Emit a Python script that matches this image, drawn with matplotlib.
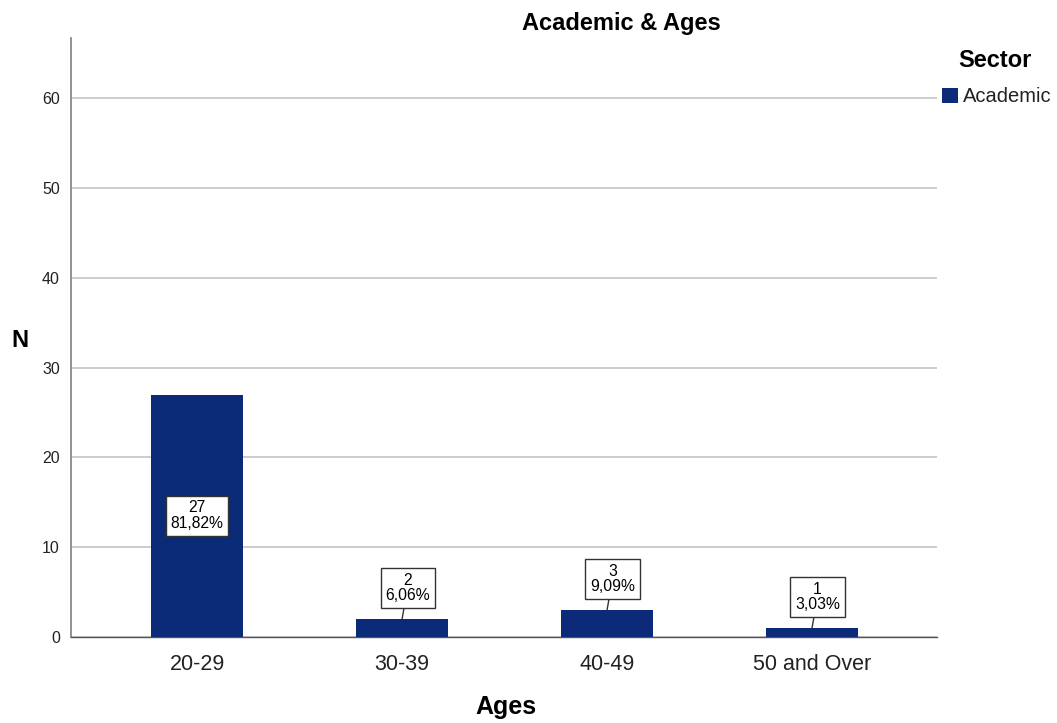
import matplotlib
matplotlib.use("Agg")
import matplotlib.pyplot as plt

plt.rcParams['font.family'] = ['Liberation Sans', 'DejaVu Sans']

# Data
age_groups = ["20-29", "30-39", "40-49", "50 and Over"]
counts = [27, 2, 3, 1]
percent_labels = ["81,82%", "6,06%", "9,09%", "3,03%"]
sector_name = "Academic"

bar_color = "#0b2a78"

fig = plt.figure(figsize=(10.57, 7.23), dpi=100)
ax = fig.add_axes([0.0672, 0.1189, 0.8193, 0.8285])

x = list(range(len(age_groups)))
bars = ax.bar(x, counts, width=0.445, color=bar_color, zorder=3, label=sector_name)

ax.set_xlim(-0.615, 3.61)
ax.set_ylim(0, 66.7)
ax.set_yticks([0, 10, 20, 30, 40, 50, 60])
ax.yaxis.grid(True, color="#c8c8c8", linewidth=1.3, zorder=0)
ax.set_axisbelow(True)

for side in ("top", "right"):
    ax.spines[side].set_visible(False)
ax.spines["left"].set_color("#8a8a8a")
ax.spines["left"].set_linewidth(1.3)
ax.spines["bottom"].set_color("#555555")
ax.spines["bottom"].set_linewidth(1.0)

ax.tick_params(axis="y", length=0, labelsize=11.5, labelcolor="#222222", pad=8)
ax.tick_params(axis="x", length=0, labelsize=15.5, labelcolor="#222222", pad=12)
ax.set_xticks(x)
ax.set_xticklabels(age_groups)

# Value labels: count and percentage in a boxed callout
box = dict(boxstyle="square,pad=0.3", facecolor="white", edgecolor="#333333", linewidth=1.0)
for xi, c, p in zip(x, counts, percent_labels):
    text = f"{c}\n{p}"
    if c > 10:
        ax.text(xi, c / 2, text, ha="center", va="center", fontsize=11.3,
                linespacing=1.05, bbox=box, zorder=5)
    else:
        ax.annotate(text, xy=(xi, c), xytext=(4, 22.5), textcoords="offset points",
                    ha="center", va="center", fontsize=11.3, linespacing=1.05,
                    bbox=box, zorder=5,
                    arrowprops=dict(arrowstyle="-", color="#333333", linewidth=1.0,
                                    shrinkA=0, shrinkB=0))

fig.text(0.5875, 0.968, "Academic & Ages", ha="center", va="center",
         fontsize=17, fontweight="bold")
fig.text(0.479, 0.022, "Ages", ha="center", va="center", fontsize=18, fontweight="bold")
fig.text(0.019, 0.529, "N", ha="center", va="center", fontsize=17, fontweight="bold")

# Legend
fig.text(0.9415, 0.917, "Sector", ha="center", va="center", fontsize=17, fontweight="bold")
leg = fig.legend(handles=[bars], labels=[sector_name], loc="center left",
                 bbox_to_anchor=(942 / 1057, 1 - 97 / 723), frameon=False,
                 fontsize=14.5, handlelength=0.8, handleheight=0.8, handletextpad=0.25,
                 borderaxespad=0, borderpad=0)
for t in leg.get_texts():
    t.set_color("#222222")

fig.savefig("out.png", dpi=100, facecolor="white")
